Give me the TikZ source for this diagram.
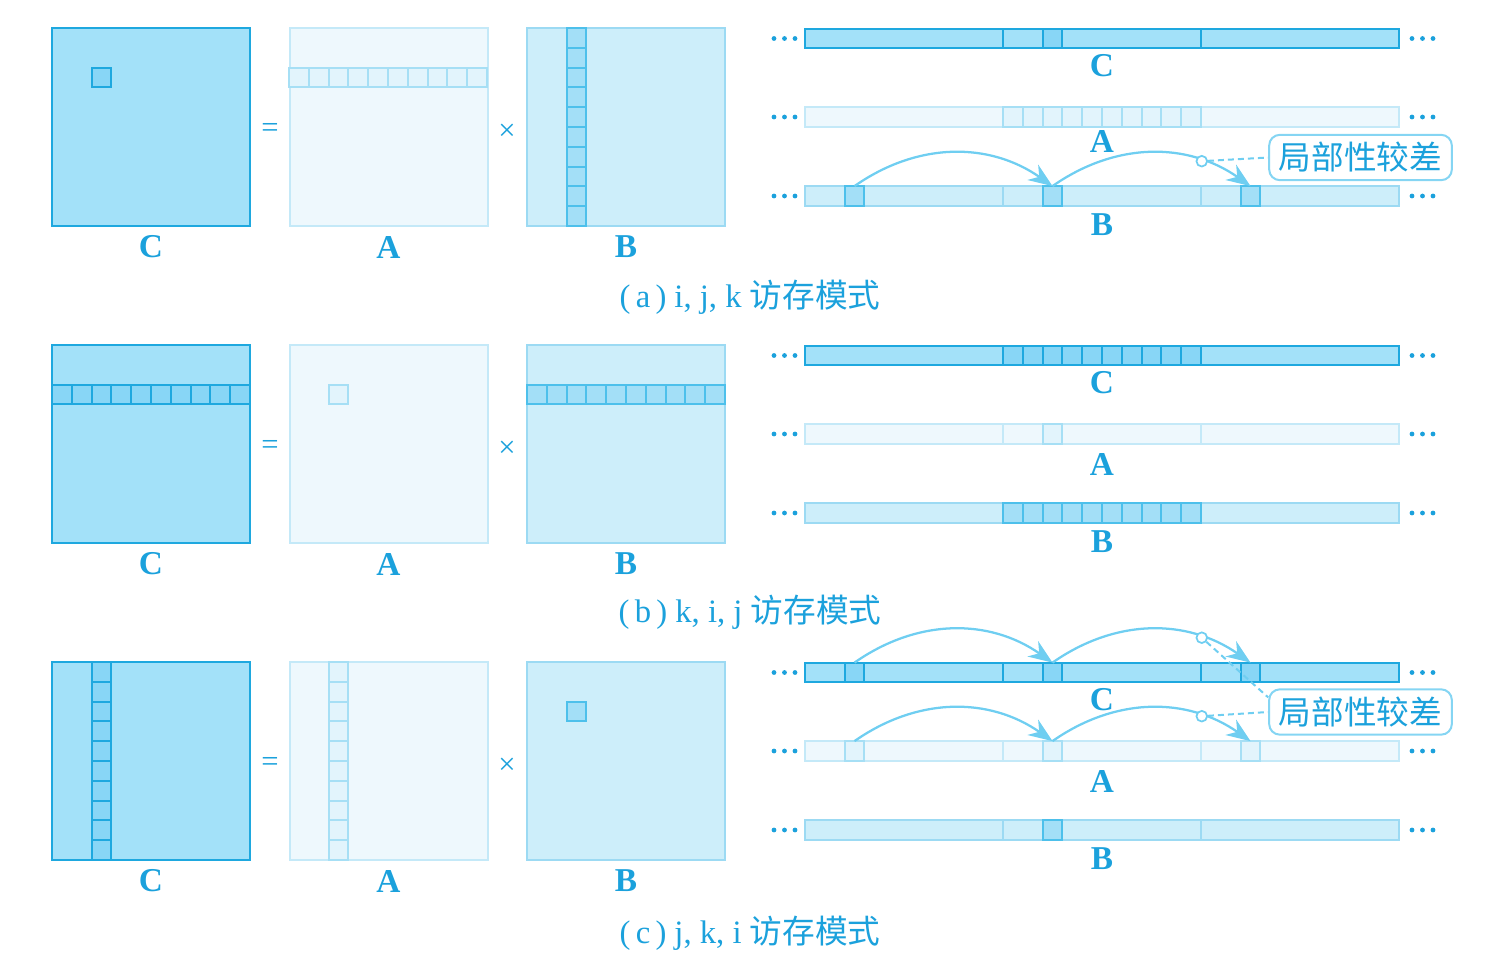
\documentclass[tikz,border=0pt]{standalone}
\usepackage{fontspec}
\setmainfont{Liberation Serif}
\newfontfamily\cjk{Noto Sans CJK SC}
\usetikzlibrary{arrows.meta}

\definecolor{txtblue}{HTML}{1BA1DC}
\definecolor{cfill}{HTML}{A3E1F9}
\definecolor{cline}{HTML}{1EA8DF}
\definecolor{chi}{HTML}{88D6F6}
\definecolor{afill}{HTML}{EEF8FD}
\definecolor{aline}{HTML}{C4E9F8}
\definecolor{ahi}{HTML}{E2F4FC}
\definecolor{ahiline}{HTML}{A6DFF5}
\definecolor{bfill}{HTML}{CDEEFA}
\definecolor{bline}{HTML}{9CDAF3}
\definecolor{bhi}{HTML}{A3DFF7}
\definecolor{bhiline}{HTML}{4DC0EB}
\definecolor{arrblue}{HTML}{6FCEF1}

\begin{document}
\begin{tikzpicture}[x=0.75pt,y=-0.75pt,line width=1.5pt]
        \tikzstyle{mat}=[minimum size=148.5pt, inner sep=0pt, outer sep=0pt]
        \tikzstyle{cell}=[minimum size=14.85pt, inner sep=0pt, outer sep=0pt]
        \tikzstyle{bar}=[minimum width=445.5pt, minimum height=14.85pt, inner sep=0pt, outer sep=0pt]
        \tikzstyle{C-fill}=[fill=cfill, draw=cline]
        \tikzstyle{C-line}=[draw=cline]
        \tikzstyle{C-hi}=[cell, fill=chi, draw=cline]
        \tikzstyle{A-fill}=[fill=afill, draw=aline]
        \tikzstyle{A-line}=[draw=aline]
        \tikzstyle{A-hi}=[cell, fill=ahi, draw=ahiline]
        \tikzstyle{B-fill}=[fill=bfill, draw=bline]
        \tikzstyle{B-line}=[draw=bline]
        \tikzstyle{B-hi}=[cell, fill=bhi, draw=bhiline]
        \tikzstyle{lbl}=[text=txtblue, font=\fontsize{25}{25}\selectfont\bfseries, inner sep=0pt]
        \tikzstyle{subcap}=[text=txtblue, font=\fontsize{24.5}{24.5}\selectfont, inner sep=0pt]
        \tikzstyle{op}=[text=txtblue, font=\fontsize{23}{23}\selectfont, inner sep=0pt]
        \tikzstyle{jump}=[-{Stealth[length=18pt,width=14pt]}, draw=arrblue, line width=1.7pt, bend left=35]
        \tikzstyle{ring}=[circle, draw=arrblue, fill=white, minimum size=8pt, inner sep=0pt, line width=1.3pt]
        \tikzstyle{lead}=[draw=arrblue, dash pattern=on 4.5pt off 3pt, line width=1.5pt]
        \tikzstyle{note}=[draw=arrblue!85, fill=white, rounded corners=8pt, minimum width=137pt, minimum height=34pt, inner sep=0pt, text=txtblue, font=\cjk\fontsize{24.5}{24.5}\selectfont]

        \useasboundingbox (0,0) rectangle (1489,961);

        % the three matrices of each row
        \foreach \r/\t in {a/28,b/345,c/662}{
            \node[mat,C-fill] (Cmat-\r) at (151,\t+99) {};
            \node[mat,A-fill] (Amat-\r) at (388.5,\t+99) {};
            \node[mat,B-fill] (Bmat-\r) at (626,\t+99) {};
            \node[lbl] (Cname-\r) at (151,\t+219) {C};
            \node[lbl] (Aname-\r) at (388.5,\t+219) {A};
            \node[lbl] (Bname-\r) at (626,\t+219) {B};
            \node[op] (eq-\r) at (270,\t+102) {=};
            \node[op] (times-\r) at (507,\t+104) {×};
        }

        % the memory layout of each row
        \foreach \r/\t in {a/28,b/345,c/662}{
            \foreach \arr/\dy/\ly in {C/10.5/38, A/89/119, B/168/197}{
                \node[bar,\arr-fill] (\arr bar-\r) at (1102,\t+\dy) {};
                \foreach \xd in {1003,1201}
                    \draw[\arr-line] (\xd,\t+\dy-9.9) -- (\xd,\t+\dy+9.9);
                \foreach \dx in {0,10.5,21}{
                    \fill[txtblue] (774+\dx,\t+\dy) circle (2.4);
                    \fill[txtblue] (1412+\dx,\t+\dy) circle (2.4);
                }
                \node[lbl] (\arr lab-\r) at (1102,{\t+\ly-6*(\t==28)*(\dy==89)}) {\arr};
            }
        }

        % (a) i, j, k
        \node[C-hi] (Ccell-a) at (101.5,77.5) {};
        \foreach \i in {0,...,9}
            \node[A-hi] (Arow-a-\i) at (298.9+19.8*\i,77.5) {};
        \foreach \j in {0,...,9}
            \node[B-hi] (Bcol-a-\j) at (576.5,37.9+19.8*\j) {};
        \node[C-hi] (Cbit-a) at (1052.5,38.5) {};
        \foreach \i in {0,...,9}
            \node[A-hi] (Abit-a-\i) at (1012.9+19.8*\i,117) {};
        \foreach \s/\x in {1/854.5,2/1052.5,3/1250.5}
            \node[B-hi] (Bbit-a-\s) at (\x,196) {};

        % (b) k, i, j
        \foreach \i in {0,...,9}
            \node[C-hi] (Crow-b-\i) at (61.9+19.8*\i,394.5) {};
        \node[A-hi] (Acell-b) at (338.5,394.5) {};
        \foreach \i in {0,...,9}
            \node[B-hi] (Brow-b-\i) at (536.9+19.8*\i,394.5) {};
        \foreach \i in {0,...,9}
            \node[C-hi] (Cbit-b-\i) at (1012.9+19.8*\i,355.5) {};
        \node[A-hi] (Abit-b) at (1052.5,434) {};
        \foreach \i in {0,...,9}
            \node[B-hi] (Bbit-b-\i) at (1012.9+19.8*\i,513) {};

        % (c) j, k, i
        \foreach \j in {0,...,9}
            \node[C-hi] (Ccol-c-\j) at (101.5,671.9+19.8*\j) {};
        \foreach \j in {0,...,9}
            \node[A-hi] (Acol-c-\j) at (338.5,671.9+19.8*\j) {};
        \node[B-hi] (Bcell-c) at (576.5,711.5) {};
        \foreach \s/\x in {1/854.5,2/1052.5,3/1250.5}{
            \node[C-hi] (Cbit-c-\s) at (\x,672.5) {};
            \node[A-hi] (Abit-c-\s) at (\x,751) {};
        }
        \node[B-hi] (Bbit-c) at (1052.5,830) {};

        % strided jumps
        \draw[jump] (Bbit-a-1.north) to (Bbit-a-2.north);
        \draw[jump] (Bbit-a-2.north) to node[ring,pos=0.75] (ring-a) {} (Bbit-a-3.north);
        \draw[jump] (Cbit-c-1.north) to (Cbit-c-2.north);
        \draw[jump] (Cbit-c-2.north) to node[ring,pos=0.75] (ring-cc) {} (Cbit-c-3.north);
        \draw[jump] (Abit-c-1.north) to (Abit-c-2.north);
        \draw[jump] (Abit-c-2.north) to node[ring,pos=0.75] (ring-ca) {} (Abit-c-3.north);

        \node[note] (note-a) at (1360.5,157.5) {局部性较差};
        \node[note] (note-c) at (1360.5,712) {局部性较差};
        \draw[lead] (ring-a) -- (note-a.west);
        \draw[lead] (ring-cc) -- (note-c.171);
        \draw[lead] (ring-ca) -- (note-c.west);

        \node[subcap] (cap-a) at (750,297) {(\hspace{4pt}a\hspace{4pt})\hspace{6pt}i, j, k {\cjk 访存模式}};
        \node[subcap] (cap-b) at (750,612) {(\hspace{4pt}b\hspace{4pt})\hspace{6pt}k, i, j {\cjk 访存模式}};
        \node[subcap] (cap-c) at (750,933) {(\hspace{4pt}c\hspace{4pt})\hspace{6pt}j, k, i {\cjk 访存模式}};
    \end{tikzpicture}
\end{document}
